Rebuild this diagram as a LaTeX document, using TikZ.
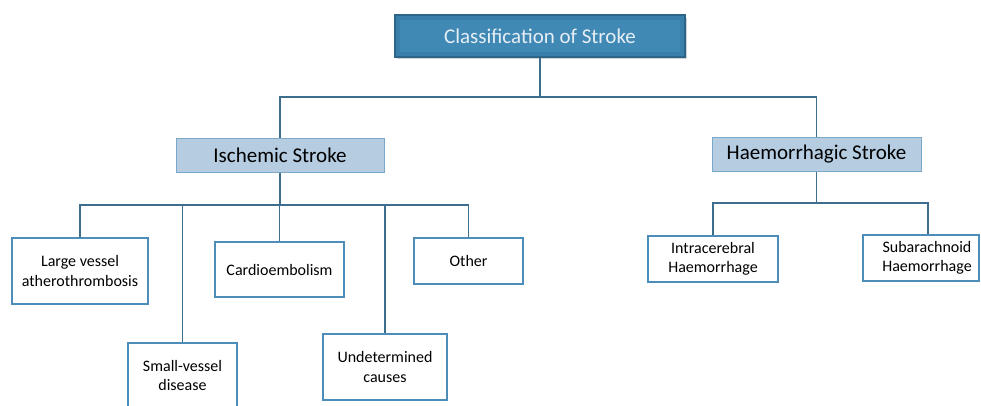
\documentclass[tikz,border=0pt]{standalone}
\usepackage{fontspec}
\setmainfont{Carlito}
\definecolor{linec}{HTML}{3D6E8E}
\definecolor{titlefill}{HTML}{3A7FAA}
\definecolor{titleinner}{HTML}{4189B5}
\definecolor{titledraw}{HTML}{2C6589}
\definecolor{titletext}{HTML}{E6EEF5}
\definecolor{lvfill}{HTML}{B5CCE1}
\definecolor{lvdraw}{HTML}{7AA8CA}
\definecolor{leafdraw}{HTML}{4C8EB9}
\begin{document}
\begin{tikzpicture}[x=1pt,y=-1pt,
  titlebox/.style={draw=titledraw,fill=titlefill,line width=2.5pt,text=titletext,
    minimum width=#1,minimum height=42pt,inner sep=0pt,font=\fontsize{21}{24}\selectfont},
  lvbox/.style={draw=lvdraw,fill=lvfill,line width=1pt,minimum height=34pt,
    minimum width=#1,inner sep=0pt,font=\fontsize{21}{24}\selectfont},
  leafbox/.style 2 args={draw=leafdraw,fill=white,line width=1.4pt,minimum width=#1,
    minimum height=#2,inner sep=0pt,align=center,font=\fontsize{16}{19.5}\selectfont},
  conn/.style={draw=linec,line width=1.4pt}]
\useasboundingbox (0,0) rectangle (981,405);
\fill[black!18] (397,18) rectangle (687,59);
\node[titlebox=290pt] (title) at (540,36) {\phantom{Classification of Stroke}};
\fill[titleinner] ([shift={(6pt,6pt)}]title.south west) rectangle ([shift={(-6pt,-6pt)}]title.north east);
\node[text=titletext,font=\fontsize{21}{24}\selectfont] (titletxt) at (title.center) {Classification of Stroke};
\node[lvbox=208pt] (isch) at (280,155) {Ischemic Stroke};
\node[lvbox=209pt] (haem) at (816.5,154.5) {Haemorrhagic Stroke};
\node[leafbox={136pt}{66pt}] (large) at (80,271) {Large vessel\\atherothrombosis};
\node[leafbox={109pt}{65pt}] (small) at (182.5,375.5) {Small-vessel\\disease};
\node[leafbox={129pt}{55pt}] (cardio) at (279.5,269.5) {Cardioembolism};
\node[leafbox={124pt}{66pt}] (undet) at (385,367) {Undetermined\\causes};
\node[leafbox={109pt}{46pt}] (other) at (468.5,261) {Other};
\node[leafbox={130pt}{46pt}] (intra) at (713,259) {Intracerebral\\Haemorrhage};
\node[leafbox={116pt}{46pt}] (sub) at (921,258) {\hspace*{12pt}Subarachnoid\\\hspace*{12pt}Haemorrhage};
\coordinate (b1) at (540,97);
\coordinate (b2) at (280,205);
\coordinate (b3) at (816.5,203);
\path[conn] (title) -- (b1);
\path[conn] (b1) -| (isch);
\path[conn] (b1) -| (haem);
\path[conn] (isch) -- (b2);
\path[conn] (b2) -| (large);
\path[conn] (b2) -| (small);
\path[conn] (b2) -| (cardio);
\path[conn] (b2) -| (undet);
\path[conn] (b2) -| (other);
\path[conn] (haem) -- (b3);
\path[conn] (b3) -| (intra);
\path[conn] (b3) -| ([xshift=7pt]sub.north);
\end{tikzpicture}
\end{document}
